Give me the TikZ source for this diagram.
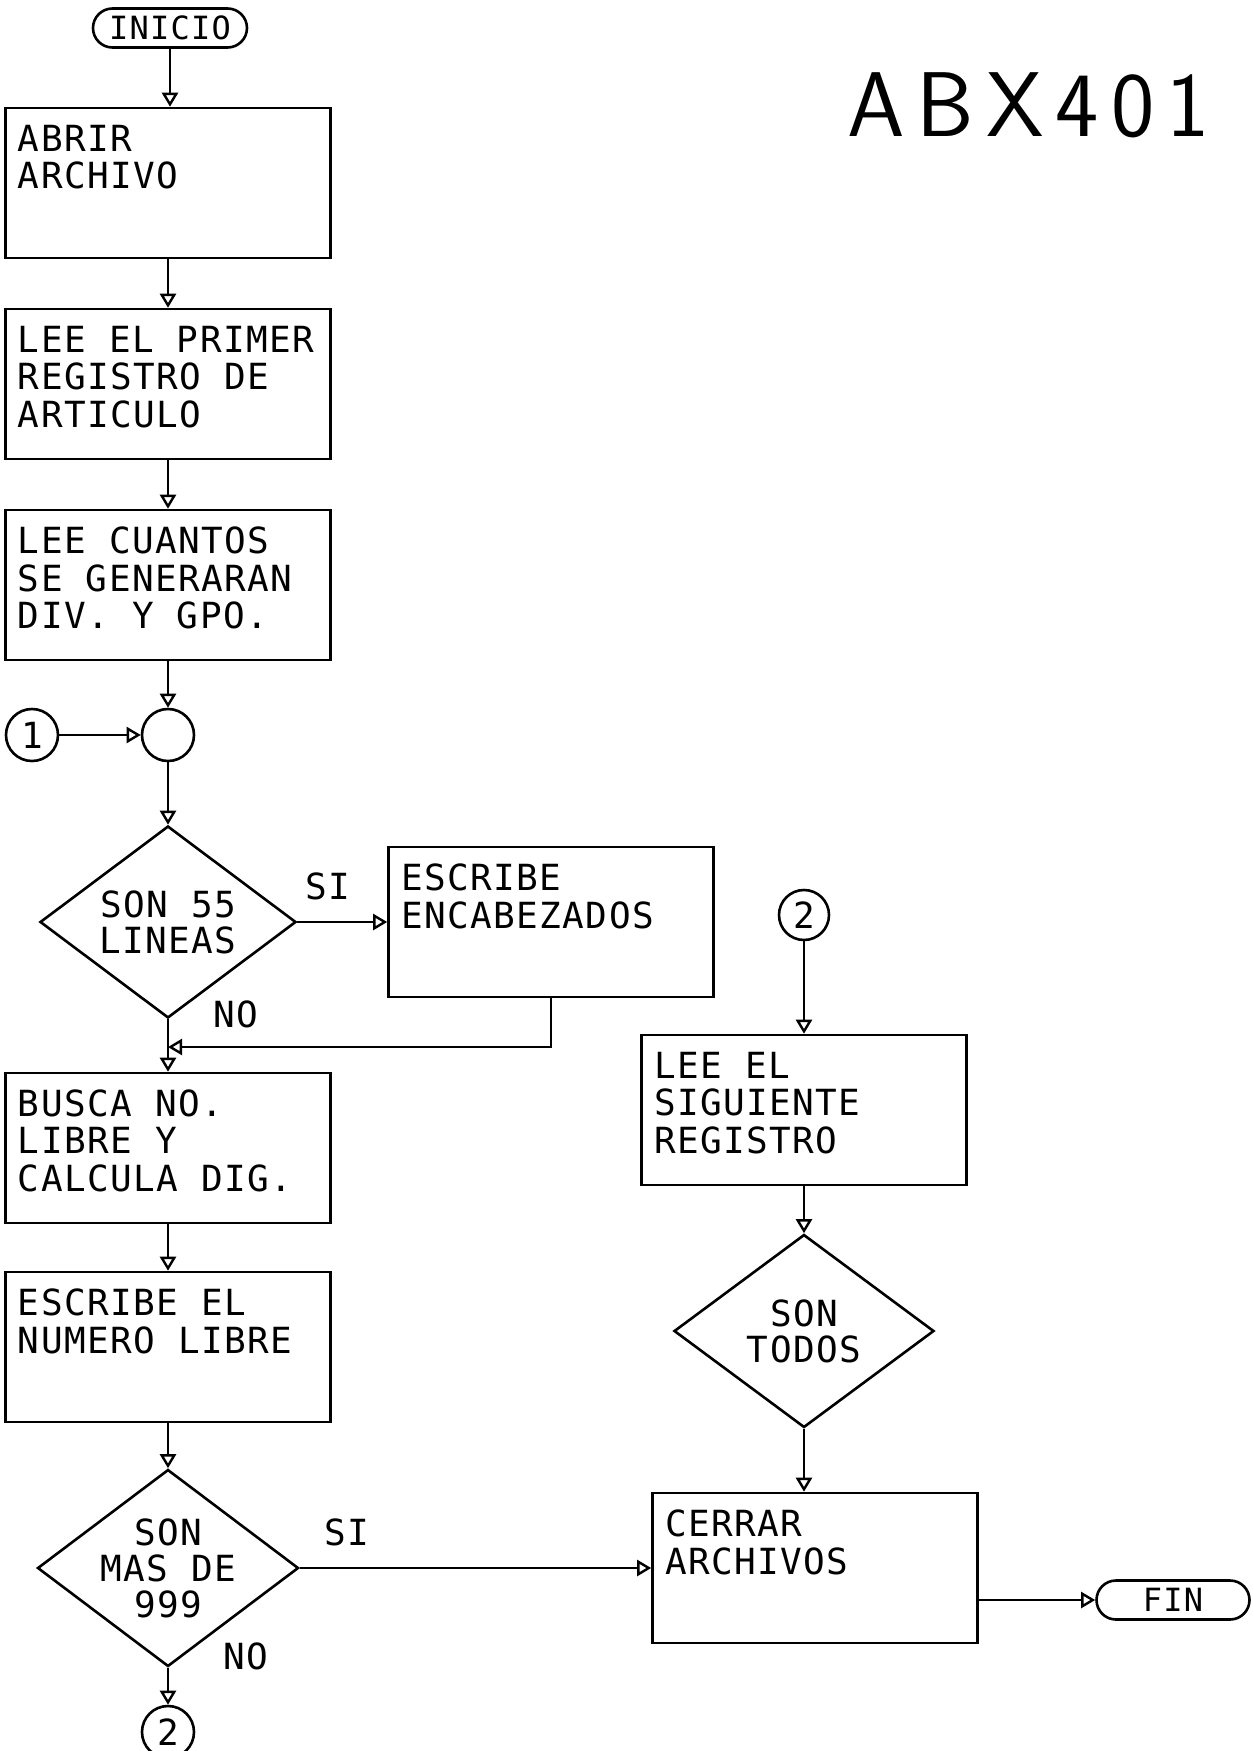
\documentclass[tikz,border=0pt]{standalone}
\usepackage{fontspec}
\usepackage{tikz}
\usetikzlibrary{arrows.meta,shapes.geometric,shapes.misc}
\newfontfamily\plotfont{DejaVu Sans Mono}[LetterSpace=4]
\newfontfamily\titlefont{lmsans17-regular.otf}[LetterSpace=13]
\newcommand{\proctext}[1]{\parbox[c][58pt][t]{150pt}{\begin{tabular}[t]{@{}l@{}}#1\end{tabular}}}
\tikzset{
  every node/.style={font=\plotfont\fontsize{18pt}{18pt}\selectfont},
  proc/.style={draw, line width=1.3pt, minimum width=162.5pt, minimum height=75pt, inner sep=0pt},
  decision/.style={diamond, draw, line width=1.3pt, aspect=1.33, inner sep=-2pt, align=center},
  term/.style={rounded rectangle, draw, line width=1.3pt, minimum width=77pt, minimum height=19.5pt, inner sep=0pt,
    font=\plotfont\fontsize{16pt}{16pt}\selectfont},
  conn/.style={circle, draw, line width=1.3pt, minimum size=26pt, inner sep=0pt},
  flow/.style={draw, line width=1.2pt, -{Triangle[open, length=7pt, width=8pt]}},
  lbl/.style={inner sep=0pt},
}
\begin{document}
\begin{tikzpicture}[x=0.5pt,y=0.5pt,yscale=-1,xscale=1]
%set diagram area: 1253 x 1751
\useasboundingbox (0,0) rectangle (1253,1751);

%Text [id:code]
\node[anchor=base west, inner sep=0pt, font=\titlefont\fontsize{46pt}{46pt}\selectfont] (code) at (847,136) {ABX401};

%Shape: Terminal [id:inicio]
\node[term] (inicio) at (170,28) {INICIO};
%Shape: Rectangle [id:abrir]
\node[proc] (abrir) at (168,183) {\proctext{ABRIR\\ARCHIVO}};
%Shape: Rectangle [id:primer]
\node[proc] (primer) at (168,384) {\proctext{LEE EL PRIMER\\REGISTRO DE\\ARTICULO}};
%Shape: Rectangle [id:cuantos]
\node[proc] (cuantos) at (168,585) {\proctext{LEE CUANTOS\\SE GENERARAN\\DIV. Y GPO.}};
%Shape: Circle [id:uno]
\node[conn] (uno) at (32,735) {1};
%Shape: Circle [id:merge]
\node[conn] (merge) at (168,735) {};
%Shape: Diamond [id:lineas]
\node[decision, minimum width=128pt, minimum height=96pt] (lineas) at (168,922) {SON 55\\LINEAS};
%Shape: Rectangle [id:encab]
\node[proc] (encab) at (551,922) {\proctext{ESCRIBE\\ENCABEZADOS}};
%Shape: Rectangle [id:busca]
\node[proc] (busca) at (168,1148) {\proctext{BUSCA NO.\\LIBRE Y\\CALCULA DIG.}};
%Shape: Rectangle [id:numero]
\node[proc] (numero) at (168,1347) {\proctext{ESCRIBE EL\\NUMERO LIBRE}};
%Shape: Diamond [id:mas]
\node[decision, minimum width=130.5pt, minimum height=98.5pt] (mas) at (168,1568) {SON\\MAS DE\\999};
%Shape: Circle [id:dosb]
\node[conn] (dosb) at (168,1732) {2};

%Shape: Circle [id:dosa]
\node[conn, minimum size=25pt] (dosa) at (804,915) {2};
%Shape: Rectangle [id:sigue]
\node[proc] (sigue) at (804,1110) {\proctext{LEE EL\\SIGUIENTE\\REGISTRO}};
%Shape: Diamond [id:todos]
\node[decision, minimum width=130pt, minimum height=96.5pt] (todos) at (804,1331) {SON\\TODOS};
%Shape: Rectangle [id:cerrar]
\node[proc] (cerrar) at (815,1568) {\proctext{CERRAR\\ARCHIVOS}};
%Shape: Terminal [id:fin]
\node[term, minimum width=76.5pt] (fin) at (1173,1600) {FIN};

%Text labels
\node[lbl] (si1) at (328,886) {SI};
\node[lbl] (no1) at (236,1014) {NO};
\node[lbl] (si2) at (347,1532) {SI};
\node[lbl] (no2) at (246,1656) {NO};

%Straight Lines
\draw[flow] (inicio.south) -- (inicio.south |- abrir.north);
\draw[flow] (abrir) -- (primer);
\draw[flow] (primer) -- (cuantos);
\draw[flow] (cuantos) -- (merge);
\draw[flow] (uno) -- (merge);
\draw[flow] (merge) -- (lineas);
\draw[flow] (lineas.east) -- (lineas.east -| encab.west);
\draw[flow] (lineas.south) -- (busca.north);
\coordinate (join1) at (168,1047);
\draw[flow] (encab.south) |- (join1);
\draw[flow] (busca) -- (numero);
\draw[flow] (numero) -- (mas);
\draw[flow] (mas.south) -- (dosb.north);
\draw[flow] (mas.east) -- (mas.east -| cerrar.west);
\draw[flow] (dosa) -- (sigue);
\draw[flow] (sigue) -- (todos);
\draw[flow] (todos.south) -- (todos.south |- cerrar.north);
\draw[flow] (fin.west -| cerrar.east) -- (fin.west);

\end{tikzpicture}
\end{document}
